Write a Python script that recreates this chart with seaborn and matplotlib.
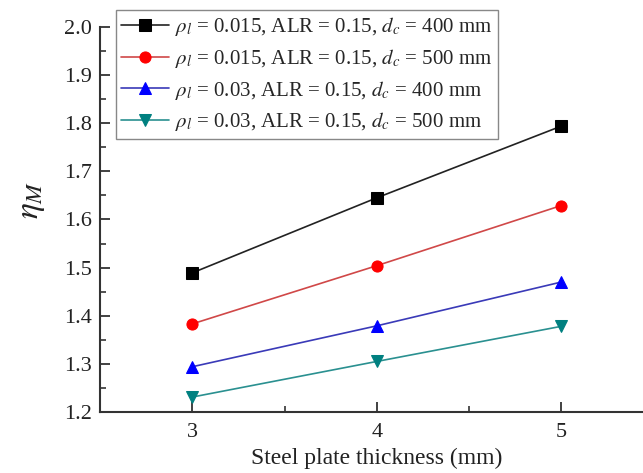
import pandas as pd
import seaborn as sns
import matplotlib.pyplot as plt
from matplotlib.ticker import MultipleLocator

# steel plate thickness (mm)
thickness = [3, 4, 5]

labels = [
    r"$\rho_l$ = 0.015, ALR = 0.15, $d_c$ = 400 mm",
    r"$\rho_l$ = 0.015, ALR = 0.15, $d_c$ = 500 mm",
    r"$\rho_l$ = 0.03, ALR = 0.15, $d_c$ = 400 mm",
    r"$\rho_l$ = 0.03, ALR = 0.15, $d_c$ = 500 mm",
]
eta_1 = [1.489, 1.645, 1.794]
eta_2 = [1.383, 1.504, 1.629]
eta_3 = [1.294, 1.379, 1.470]
eta_4 = [1.231, 1.305, 1.378]

marker_colors = ["#000000", "#ff0000", "#0000ff", "#008080"]
line_colors = ["#222222", "#d04848", "#3a3ab8", "#2a9090"]
markers = ["s", "o", "^", "v"]

rows = []
for lab, vals in zip(labels, [eta_1, eta_2, eta_3, eta_4]):
    for t, v in zip(thickness, vals):
        rows.append({"thickness": t, "eta": v, "series": lab})
df = pd.DataFrame(rows)

sns.set_style("ticks")
plt.rcParams["font.family"] = ["Liberation Serif", "DejaVu Serif"]
plt.rcParams["mathtext.fontset"] = "stix"

fig = plt.figure(figsize=(6.43, 4.73), dpi=100)
ax = fig.add_axes([0.1555, 0.129, 0.861, 0.814])

for lab, mk, mc, lc in zip(labels, markers, marker_colors, line_colors):
    sns.lineplot(data=df[df["series"] == lab], x="thickness", y="eta", ax=ax,
                 color=lc, marker=mk, markersize=8, markerfacecolor=mc,
                 markeredgecolor=mc, linewidth=1.2, label=lab)

ax.set_xlim(2.5, 5.5)
ax.set_ylim(1.2, 2.0)
ax.xaxis.set_major_locator(MultipleLocator(1))
ax.xaxis.set_minor_locator(MultipleLocator(0.5))
ax.yaxis.set_major_locator(MultipleLocator(0.1))
ax.yaxis.set_minor_locator(MultipleLocator(0.05))
ax.yaxis.set_major_formatter(plt.FormatStrFormatter("%.1f"))
ax.tick_params(which="major", direction="in", length=7, width=1.3, labelsize=16,
               colors="#333333", labelcolor="#222222")
ax.tick_params(axis="y", which="major", pad=6)
ax.tick_params(axis="x", which="major", pad=8)
ax.tick_params(which="minor", direction="in", length=4, width=1.2, colors="#333333")
for s in ["top", "right"]:
    ax.spines[s].set_visible(False)
for s in ["left", "bottom"]:
    ax.spines[s].set_linewidth(1.5)
    ax.spines[s].set_color("#333333")

ax.set_xlabel("Steel plate thickness (mm)", fontsize=17, color="#222222", labelpad=4)
ax.set_ylabel(r"$\eta_M$", fontsize=24, color="#222222")
ax.yaxis.set_label_coords(-0.095, 0.55)

leg = ax.legend(loc="upper left", bbox_to_anchor=(0.029, 1.044), borderaxespad=0,
                fontsize=15, frameon=True, fancybox=False, edgecolor="#888888",
                framealpha=1, labelspacing=0.42, handlelength=2.3,
                handletextpad=0.3, borderpad=0.25)
leg.get_frame().set_linewidth(1.0)

fig.savefig("out.png", dpi=100)
